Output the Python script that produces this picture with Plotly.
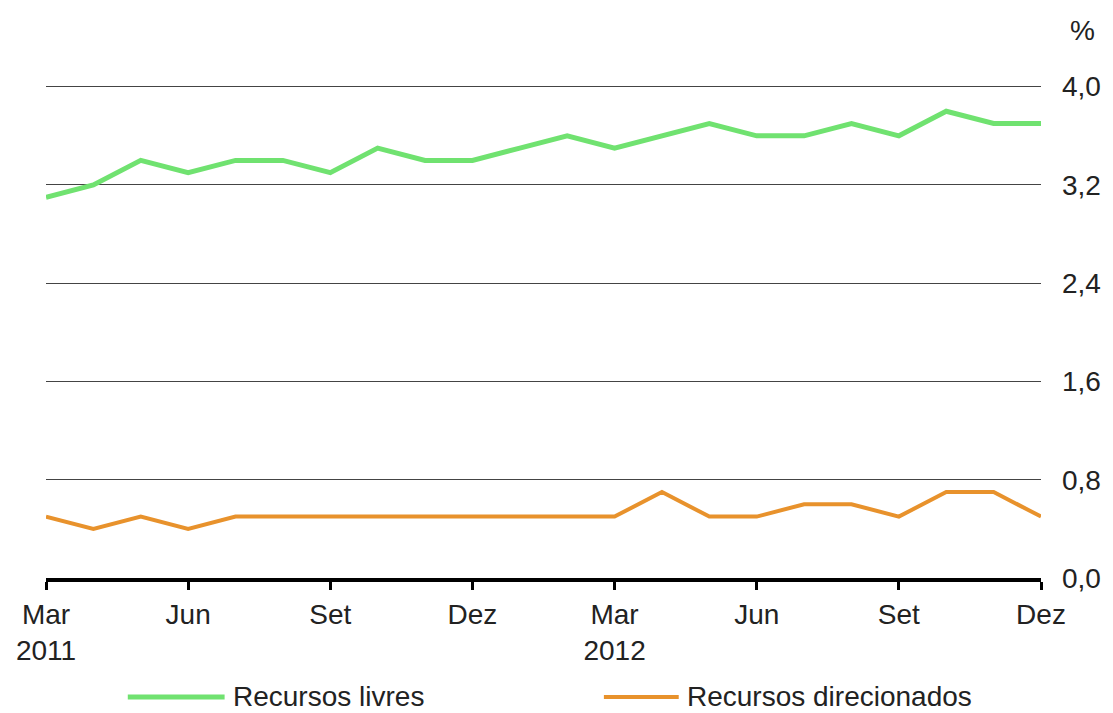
import plotly.graph_objects as go

months = ["Mar 2011", "Abr 2011", "Mai 2011", "Jun 2011", "Jul 2011", "Ago 2011",
          "Set 2011", "Out 2011", "Nov 2011", "Dez 2011", "Jan 2012", "Fev 2012",
          "Mar 2012", "Abr 2012", "Mai 2012", "Jun 2012", "Jul 2012", "Ago 2012",
          "Set 2012", "Out 2012", "Nov 2012", "Dez 2012"]

recursos_livres = [3.1, 3.2, 3.4, 3.3, 3.4, 3.4, 3.3, 3.5, 3.4, 3.4, 3.5, 3.6,
                   3.5, 3.6, 3.7, 3.6, 3.6, 3.7, 3.6, 3.8, 3.7, 3.7]
recursos_direcionados = [0.5, 0.4, 0.5, 0.4, 0.5, 0.5, 0.5, 0.5, 0.5, 0.5, 0.5, 0.5,
                         0.5, 0.7, 0.5, 0.5, 0.6, 0.6, 0.5, 0.7, 0.7, 0.5]

tick_months = ["Mar 2011", "Jun 2011", "Set 2011", "Dez 2011",
               "Mar 2012", "Jun 2012", "Set 2012", "Dez 2012"]
tick_text = ["Mar<br>2011", "Jun", "Set", "Dez", "Mar<br>2012", "Jun", "Set", "Dez"]

y_ticks = [0.0, 0.8, 1.6, 2.4, 3.2, 4.0]

GREEN = "rgb(112,226,112)"
ORANGE = "rgb(232,146,44)"
FONT = "Liberation Sans, Arial, sans-serif"
TXT = "#222222"
FS = 28

fig = go.Figure()
fig.add_trace(go.Scatter(x=months, y=recursos_livres, mode="lines",
                         name="Recursos livres",
                         line=dict(color=GREEN, width=5)))
fig.add_trace(go.Scatter(x=months, y=recursos_direcionados, mode="lines",
                         name="Recursos direcionados",
                         line=dict(color=ORANGE, width=4)))

fig.update_layout(
    width=1113, height=713,
    margin=dict(l=46, r=70, t=83, b=135),
    paper_bgcolor="white", plot_bgcolor="white",
    showlegend=False,
    separators=",.",
    font=dict(family=FONT, size=FS, color=TXT),
)

fig.update_xaxes(
    type="category",
    range=[0, len(months) - 1],
    tickmode="array", tickvals=tick_months, ticktext=tick_text,
    ticks="outside", ticklen=8, tickwidth=3, tickcolor="black",
    showline=True, linecolor="black", linewidth=4,
    showgrid=False, zeroline=False,
    tickfont=dict(family=FONT, size=FS, color=TXT),
)

fig.update_yaxes(
    side="right", range=[0, 4.03],
    tickmode="array", tickvals=y_ticks,
    tickformat=".1f",
    showgrid=True, gridcolor="#444444", gridwidth=1.3,
    zeroline=False, showline=False, ticks="",
    ticklabelstandoff=20,
    tickfont=dict(family=FONT, size=FS, color=TXT),
)

# "%" unit label
fig.add_annotation(xref="paper", yref="paper", x=1.027, y=1.107,
                   xanchor="left", yanchor="middle", text="%",
                   showarrow=False, font=dict(family=FONT, size=FS, color=TXT))

# Manual legend
leg_y = -0.2404
fig.add_shape(type="line", xref="paper", yref="paper",
              x0=0.0822, x1=0.1795, y0=leg_y, y1=leg_y,
              line=dict(color=GREEN, width=5))
fig.add_annotation(xref="paper", yref="paper", x=0.1856, y=leg_y,
                   xanchor="left", yanchor="middle", text="Recursos livres",
                   showarrow=False, font=dict(family=FONT, size=FS, color=TXT))
fig.add_shape(type="line", xref="paper", yref="paper",
              x0=0.5607, x1=0.6359, y0=leg_y, y1=leg_y,
              line=dict(color=ORANGE, width=4))
fig.add_annotation(xref="paper", yref="paper", x=0.6419, y=leg_y,
                   xanchor="left", yanchor="middle", text="Recursos direcionados",
                   showarrow=False, font=dict(family=FONT, size=FS, color=TXT))

fig.write_html("out.html")
